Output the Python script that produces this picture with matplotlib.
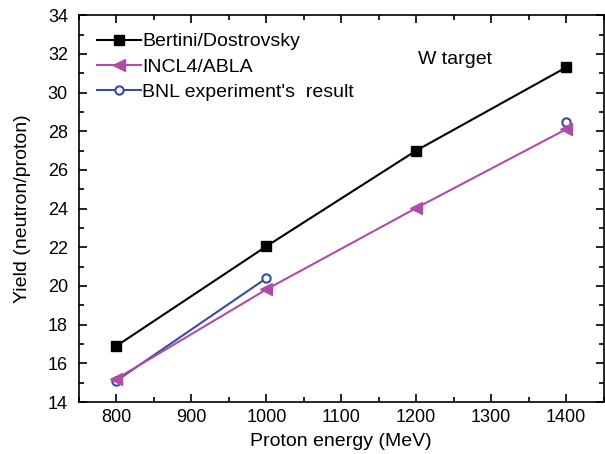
import numpy as np
import matplotlib
matplotlib.use("Agg")
import matplotlib.pyplot as plt
from matplotlib.ticker import MultipleLocator

plt.rcParams['font.family'] = ['Liberation Sans', 'DejaVu Sans']

energy = [800, 1000, 1200, 1400]
bertini = [16.9, 22.05, 27.0, 31.3]
incl = [15.2, 19.82, 24.03, 28.1]
bnl = [15.1, 20.4, np.nan, 28.47]

fig = plt.figure(figsize=(6.05, 4.54), dpi=100)
ax = fig.add_axes([0.1306, 0.1145, 0.867, 0.852])

ax.plot(energy, bertini, color='black', marker='s', markersize=7, lw=1.5,
        label='Bertini/Dostrovsky')
ax.plot(energy, incl, color='#b04ca8', marker='<', markersize=8, lw=1.5,
        label='INCL4/ABLA', zorder=3)
ax.plot(energy, bnl, color='#3a4aa0', marker='o', markersize=6, lw=1.5,
        markerfacecolor='white', markeredgewidth=1.5,
        label="BNL experiment's  result", zorder=2)

ax.set_xlim(750, 1450)
ax.set_ylim(14, 34)
ax.xaxis.set_major_locator(MultipleLocator(100))
ax.xaxis.set_minor_locator(MultipleLocator(50))
ax.yaxis.set_major_locator(MultipleLocator(2))
ax.yaxis.set_minor_locator(MultipleLocator(1))
ax.tick_params(which='both', direction='in', top=True, right=True, labelsize=13)
ax.tick_params(which='major', length=6, width=1.2, pad=5)
ax.tick_params(which='minor', length=3.5, width=1.2)
ax.tick_params(axis='y', which='major', pad=8)
for s in ax.spines.values():
    s.set_linewidth(1.2)

ax.set_xlabel('Proton energy (MeV)', fontsize=14, labelpad=5)
ax.set_ylabel('Yield (neutron/proton)', fontsize=14, labelpad=12)

ax.text(1203, 31.7, 'W target', fontsize=14, va='center')
ax.legend(loc='upper left', frameon=False, fontsize=14, handlelength=2.3,
          handletextpad=0.05, labelspacing=0.4, borderaxespad=0.7,
          borderpad=0.2)

fig.savefig('out.png', dpi=100)
